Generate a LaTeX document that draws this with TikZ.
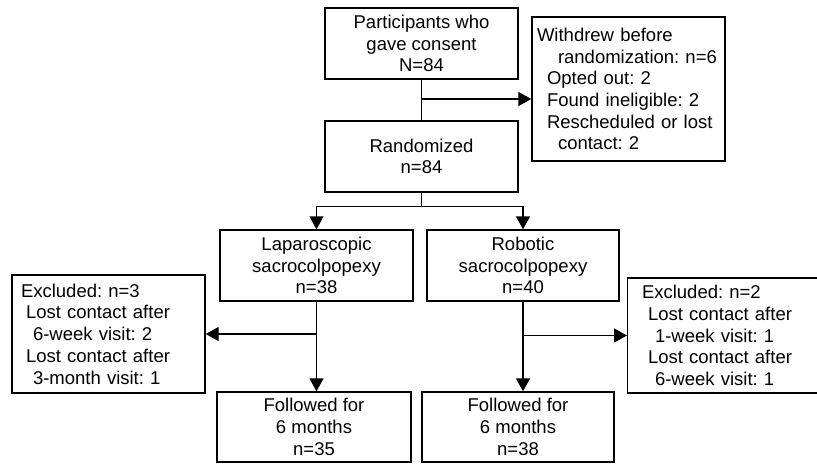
\documentclass[tikz,border=0pt]{standalone}
\usepackage{fontspec}
\setmainfont{Liberation Sans}
\usetikzlibrary{arrows.meta}

\begin{document}
\begin{tikzpicture}[x=1pt,y=-1pt]
	    \tikzstyle{every node}+=[font=\fontsize{18.5}{21.7}\selectfont\frenchspacing]
	    \tikzstyle{box}=[draw=black, line width=1.4pt, minimum width=193pt, minimum height=71pt, inner sep=0pt, align=center]
	    \tikzstyle{line}=[black, line width=1.4pt]
	    \tikzstyle{arrow}=[line, -{Triangle[length=13pt,width=14pt]}]
	    \useasboundingbox (0,0) rectangle (817,464);
	    % main column
	    \node [box] (consent) at (421.5,43.5) {Participants who\\gave consent\\N=84};
	    \node [box] (random) at (421.5,156.5) {Randomized\\n=84};
	    \node [box, minimum height=144pt, inner xsep=5pt, text width=183pt, align=left] (withdrew) at (628.5,89)
	        {Withdrew before\\\hspace*{21pt}randomization: n=6\\\hspace*{10pt}Opted out: 2\\\hspace*{10pt}Found ineligible: 2\\\hspace*{10pt}Rescheduled or lost\\\hspace*{21pt}contact: 2};
	    % the two arms
	    \node [box] (lap) at (316.5,265.5) {Laparoscopic\\sacrocolpopexy\\n=38};
	    \node [box, minimum width=192pt] (robot) at (523,265.5) {Robotic\\sacrocolpopexy\\n=40};
	    \node [box, minimum height=118pt, inner xsep=9pt, text width=175pt, align=left] (exclL) at (108.5,334)
	        {Excluded: n=3\\\hspace*{5pt}Lost contact after\\\hspace*{12pt}6-week visit: 2\\\hspace*{5pt}Lost contact after\\\hspace*{12pt}3-month visit: 1};
	    \node [box, minimum height=115pt, inner xsep=9pt, text width=164.5pt, align=left] (exclR) at (724.25,335.5)
	        {Excluded: n=2\\\hspace*{6pt}Lost contact after\\\hspace*{13pt}1-week visit: 1\\\hspace*{6pt}Lost contact after\\\hspace*{13pt}6-week visit: 1};
	    \node [box, minimum width=194pt, minimum height=70pt] (follL) at (314,427) {Followed for\\6 months\\n=35};
	    \node [box, minimum width=192pt, minimum height=70pt] (follR) at (518,427) {Followed for\\6 months\\n=38};
	    % connectors
	    \coordinate (wd) at (421.5,99);
	    \draw [line] (consent.south) -- (random.north);
	    \draw [arrow] (wd) -- (wd -| withdrew.west);
	    \draw [arrow] (random.south) -- ++(0,14) -| (lap.north);
	    \draw [arrow] (random.south) -- ++(0,14) -| (robot.north);
	    \draw [arrow] (lap.south) -- (lap.south |- follL.north);
	    \draw [arrow] (lap.south |- exclL.east) -- (exclL.east);
	    \draw [arrow] (robot.south) -- (robot.south |- follR.north);
	    \draw [arrow] (robot.south |- exclR.west) -- (exclR.west);
\end{tikzpicture}
\end{document}
